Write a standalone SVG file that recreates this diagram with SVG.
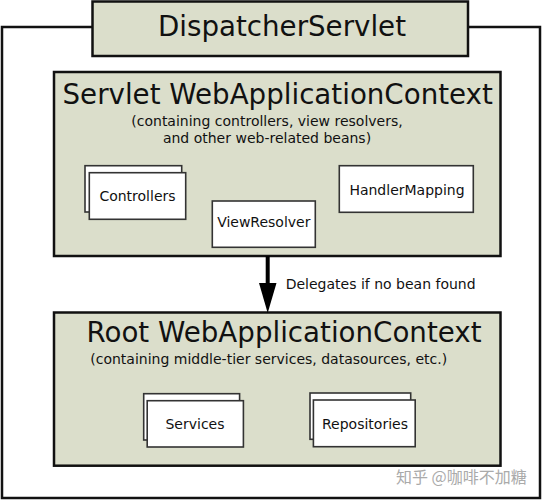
<svg xmlns="http://www.w3.org/2000/svg" width="543" height="500" viewBox="0 0 543 500">
<style>
  text { font-family: "DejaVu Sans", Verdana, sans-serif; fill: #111; }
  .ctx { fill: #dbdecb; stroke: #111; stroke-width: 2.5; }
  .bean { fill: #ffffff; stroke: #333; stroke-width: 1.6; }
  .title { font-size: 27.7px; text-anchor: middle; }
  .sub { font-size: 14px; text-anchor: middle; }
  .lbl { font-size: 14px; text-anchor: middle; }
</style>
<rect width="543" height="500" fill="#ffffff"/>
<g id="frame">
  <rect x="2" y="27" width="538" height="471" fill="none" stroke="#111" stroke-width="2.5"/>
</g>
<g id="dispatcherServlet">
  <rect class="ctx" x="92.5" y="1.5" width="375.5" height="54.5"/>
  <text class="title" x="282" y="36">DispatcherServlet</text>
</g>
<g id="servletContext">
  <rect class="ctx" x="54" y="72" width="446.5" height="184"/>
  <text class="title" x="277.7" y="104">Servlet WebApplicationContext</text>
  <text class="sub" x="267" y="125.5">(containing controllers, view resolvers,</text>
  <text class="sub" x="267" y="142.5">and other web-related beans)</text>
</g>
<g id="controllers">
  <rect class="bean" x="85" y="165.7" width="96.7" height="46.3"/>
  <rect class="bean" x="89.3" y="172.7" width="96.4" height="46.6"/>
  <text class="lbl" x="137.5" y="200.7">Controllers</text>
</g>
<g id="viewResolver">
  <rect class="bean" x="212.3" y="201" width="103" height="46.3"/>
  <text class="lbl" x="263.8" y="227.3">ViewResolver</text>
</g>
<g id="handlerMapping">
  <rect class="bean" x="339.3" y="165.7" width="134" height="46.6"/>
  <text class="lbl" x="407" y="195">HandlerMapping</text>
</g>
<g id="rootContext">
  <rect class="ctx" x="54" y="312.5" width="446.5" height="153.2"/>
  <text class="title" x="284" y="341.7">Root WebApplicationContext</text>
  <text class="sub" x="268.7" y="364">(containing middle-tier services, datasources, etc.)</text>
</g>
<g id="services">
  <rect class="bean" x="143.7" y="393.7" width="95.9" height="46.3"/>
  <rect class="bean" x="147.2" y="400.7" width="96.2" height="46.3"/>
  <text class="lbl" x="195" y="429">Services</text>
</g>
<g id="repositories">
  <rect class="bean" x="310" y="393" width="100.7" height="46.3"/>
  <rect class="bean" x="313.4" y="400" width="101.8" height="46.7"/>
  <text class="lbl" x="365" y="429">Repositories</text>
</g>
<g id="connectors">
  <line x1="267.7" y1="256" x2="267.7" y2="286" stroke="#000" stroke-width="4"/>
  <polygon points="259,283 276.5,283 267.7,313" fill="#000"/>
  <text x="285.7" y="288.7" font-size="14px">Delegates if no bean found</text>
</g>
<text x="396" y="483" font-size="16px" style="font-family: 'Noto Sans CJK SC', 'DejaVu Sans', sans-serif; fill: #aaaaaa;">知乎 @咖啡不加糖</text>
</svg>
